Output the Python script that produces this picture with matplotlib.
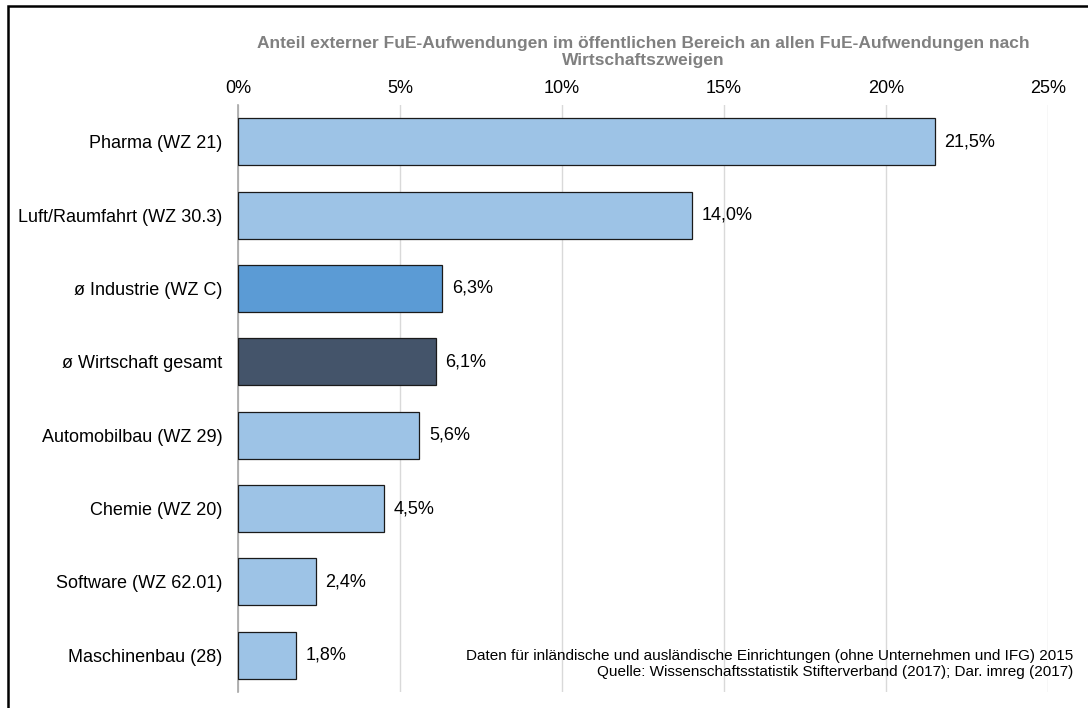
import matplotlib
matplotlib.use("Agg")
import matplotlib.pyplot as plt
from matplotlib.patches import Rectangle

plt.rcParams['font.family'] = ['Liberation Sans', 'DejaVu Sans']

categories = ["Pharma (WZ 21)", "Luft/Raumfahrt (WZ 30.3)", "ø Industrie (WZ C)",
              "ø Wirtschaft gesamt", "Automobilbau (WZ 29)", "Chemie (WZ 20)",
              "Software (WZ 62.01)", "Maschinenbau (28)"]
values = [21.5, 14.0, 6.3, 6.1, 5.6, 4.5, 2.4, 1.8]
colors = ["#9DC3E6", "#9DC3E6", "#5B9BD5", "#44546A", "#9DC3E6", "#9DC3E6", "#9DC3E6", "#9DC3E6"]
xticks = [0, 5, 10, 15, 20, 25]
title = "Anteil externer FuE-Aufwendungen im öffentlichen Bereich an allen FuE-Aufwendungen nach\nWirtschaftszweigen"
note = ("Daten für inländische und ausländische Einrichtungen (ohne Unternehmen und IFG) 2015\n"
        "Quelle: Wissenschaftsstatistik Stifterverband (2017); Dar. imreg (2017)")

fig = plt.figure(figsize=(10.88, 7.08), dpi=100)
ax = fig.add_axes([238/1088, 1 - 692/708, (1048 - 238)/1088, (692 - 105)/708])

y = list(range(len(categories)))
ax.barh(y, values, height=0.64, color=colors, edgecolor="#1a1a1a", linewidth=0.9, zorder=3)
for yi, v in zip(y, values):
    ax.text(v + 0.3, yi, f"{v:.1f}%".replace(".", ","), va="center", ha="left", fontsize=13)

ax.set_xlim(0, 25)
ax.set_ylim(len(categories) - 0.5, -0.5)
ax.set_yticks(y)
ax.set_yticklabels(categories, fontsize=13)
ax.set_xticks(xticks)
ax.set_xticklabels([f"{t}%" for t in xticks], fontsize=13)
ax.xaxis.tick_top()
ax.tick_params(axis='x', length=0, pad=6)
ax.tick_params(axis='y', length=0, pad=11)
ax.grid(axis='x', color="#D9D9D9", linewidth=1, zorder=0)
for s in ["top", "right", "bottom"]:
    ax.spines[s].set_visible(False)
ax.spines["left"].set_color("#A6A6A6")
ax.spines["left"].set_linewidth(1.2)

fig.text(643/1088, 1 - 52/708, title, ha="center", va="center", fontsize=12.5,
         fontweight="bold", color="#808080", linespacing=1.1)
fig.text(1073/1088, 1 - 664/708, note, ha="right", va="center", fontsize=11,
         linespacing=1.25)

# outer frame
fig.add_artist(Rectangle((8/1088, -0.05), 1.2, 1 - 6/708 + 0.05, transform=fig.transFigure,
                         fill=False, edgecolor="black", linewidth=1.8))

fig.savefig("out.png", dpi=100)
